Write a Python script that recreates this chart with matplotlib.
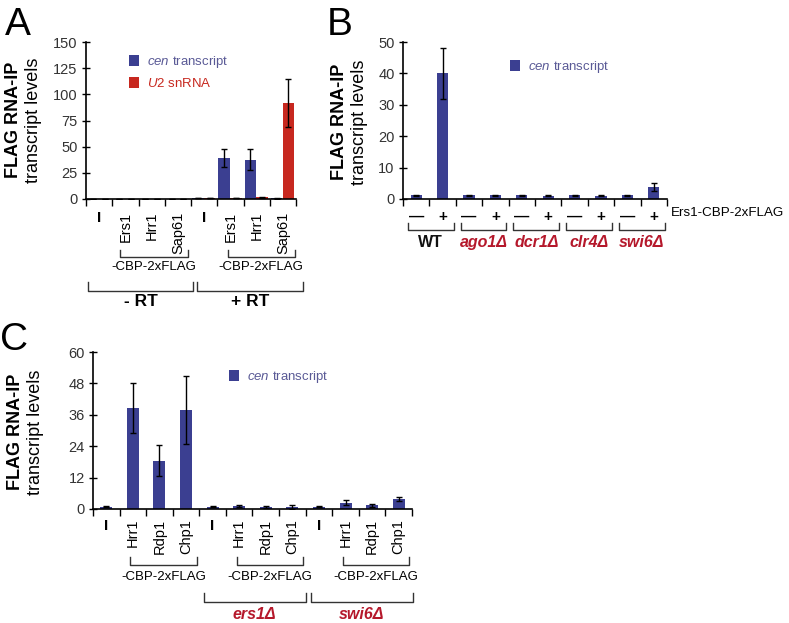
import numpy as np
import matplotlib
matplotlib.use("Agg")
import matplotlib.pyplot as plt

plt.rcParams['font.family'] = ['Liberation Sans', 'DejaVu Sans']
plt.rcParams['mathtext.fontset'] = 'custom'
plt.rcParams['mathtext.rm'] = 'Liberation Sans'
plt.rcParams['mathtext.it'] = 'Liberation Sans:italic'
plt.rcParams['mathtext.bf'] = 'Liberation Sans:bold'

BLUE = '#3b3f91'
RED = '#c7281f'
LBLUE = '#5a5a96'
MRED = '#b5182b'

# ---------------- data ----------------
# panel A: 8 samples, two transcripts
a_labels = ['I', 'Ers1', 'Hrr1', 'Sap61', 'I', 'Ers1', 'Hrr1', 'Sap61']
a_cen = [0.2, 0.2, 0.2, 0.2, 1.0, 39.0, 37.5, 0.5]
a_cen_err = [0, 0, 0, 0, 0.3, 8.5, 10.0, 0.2]
a_u2 = [0.3, 0.3, 0.3, 0.3, 1.0, 0.8, 1.5, 91.5]
a_u2_err = [0, 0, 0, 0, 0.3, 0.3, 0.5, 23.0]

# panel B: -/+ Ers1-CBP-2xFLAG in each strain
b_labels = ['—', '+'] * 5
b_strains = ['WT', 'ago1Δ', 'dcr1Δ', 'clr4Δ', 'swi6Δ']
b_cen = [1.2, 40.0, 1.2, 1.2, 1.2, 1.1, 1.2, 1.1, 1.2, 3.8]
b_cen_err = [0.15, 8.0, 0.15, 0.15, 0.15, 0.15, 0.15, 0.2, 0.15, 1.2]

# panel C: 3 strains x (untagged + 3 tagged)
c_labels = ['I', 'Hrr1', 'Rdp1', 'Chp1'] * 3
c_strains = ['ers1Δ', 'swi6Δ']
c_cen = [0.9, 38.5, 18.5, 38.0, 0.9, 1.15, 0.75, 0.8, 0.9, 2.4, 1.4, 3.8]
c_cen_err = [0.2, 9.5, 6.0, 13.0, 0.15, 0.5, 0.3, 0.8, 0.15, 1.0, 0.6, 0.8]

fig = plt.figure(figsize=(7.89, 6.23), dpi=100)


def box(px, py, pw, ph):
    return [px / 789, 1 - (py + ph) / 623, pw / 789, ph / 623]


def style_axes(ax, n, yticks):
    ax.spines['top'].set_visible(False)
    ax.spines['right'].set_visible(False)
    for s in ('left', 'bottom'):
        ax.spines[s].set_linewidth(1.2)
    ax.set_xlim(-0.5, n - 0.5)
    ax.set_ylim(yticks[0], yticks[-1])
    ax.set_yticks(yticks)
    ax.tick_params(axis='y', direction='inout', length=6, width=1, labelsize=10.5,
                   pad=3, labelcolor='#333')
    ax.set_xticks(np.arange(-0.5, n), minor=True)
    ax.tick_params(axis='x', which='minor', direction='out', length=5, width=1)
    ax.tick_params(axis='x', which='major', length=0)


def bracket(ax, x0, x1, y, h, label, ty, **kw):
    tr = ax.get_xaxis_transform()
    ax.plot([x0, x0, x1, x1], [y + h, y, y, y + h], transform=tr, color='#333',
            lw=1, clip_on=False)
    ax.text((x0 + x1) / 2, ty, label, transform=tr, ha='center', va='center', **kw)


def ylab(px, py):
    # px is the centre of the first (bold) line
    fig.text(px / 789, 1 - py / 623, 'FLAG RNA-IP', rotation=90, ha='center',
             va='center', fontsize=13, fontweight='bold')
    fig.text((px + 19) / 789, 1 - py / 623, 'transcript levels', rotation=90,
             ha='center', va='center', fontsize=13)


def fix_dash_labels(ax):
    for t in ax.get_xticklabels():
        if t.get_text() == 'I':
            t.set_rotation(0)
            t.set_fontweight('bold')
            t.set_fontsize(11)


# ---------------- panel A ----------------
ax = fig.add_axes(box(86, 42, 210, 157))
xa = np.arange(len(a_labels))
b1 = ax.bar(xa - 0.24, a_cen, 0.44, color=BLUE, yerr=a_cen_err, capsize=2.5,
            error_kw=dict(lw=1, capthick=1))
b2 = ax.bar(xa + 0.21, a_u2, 0.44, color=RED, yerr=a_u2_err, capsize=2.5,
            error_kw=dict(lw=1, capthick=1))
style_axes(ax, len(a_labels), [0, 25, 50, 75, 100, 125, 150])
ax.set_xticks(xa, a_labels, rotation=90, fontsize=10.5)
ax.tick_params(axis='x', which='major', pad=9)
fix_dash_labels(ax)
leg = ax.legend([b1, b2], [r'$\it{cen}$ transcript', r'$\it{U2}$ snRNA'],
                loc='upper left', bbox_to_anchor=(122 / 789, 1 - 47 / 623),
                bbox_transform=fig.transFigure, frameon=False, fontsize=9.5,
                handlelength=0.8, handleheight=0.9, handletextpad=0.6,
                labelspacing=0.55, borderpad=0)
leg.get_texts()[0].set_color(LBLUE)
leg.get_texts()[1].set_color(RED)
bracket(ax, 0.8, 3.4, -0.369, 0.045, '-CBP-2xFLAG', -0.433, fontsize=9.5)
bracket(ax, 4.9, 7.45, -0.369, 0.045, '-CBP-2xFLAG', -0.433, fontsize=9.5)
bracket(ax, -0.42, 3.58, -0.586, 0.057, '- RT', -0.656, fontsize=12.5,
        fontweight='bold')
bracket(ax, 3.73, 7.77, -0.586, 0.057, '+ RT', -0.656, fontsize=12.5,
        fontweight='bold')
ylab(14, 120)
fig.text(5 / 789, 1 - 35 / 623, 'A', fontsize=28, va='baseline')

# ---------------- panel B ----------------
ax = fig.add_axes(box(403, 42, 264, 157))
xb = np.arange(len(b_labels))
bb = ax.bar(xb, b_cen, 0.42, color=BLUE, yerr=b_cen_err, capsize=2,
            error_kw=dict(lw=1, capthick=1))
style_axes(ax, len(b_labels), [0, 10, 20, 30, 40, 50])
ax.set_xticks(xb, b_labels, fontsize=11, fontweight='bold')
ax.tick_params(axis='x', which='major', pad=8)
ax.text(1.015, -0.089, 'Ers1-CBP-2xFLAG', transform=ax.transAxes, ha='left',
        va='center', fontsize=9.6)
leg = ax.legend([bb], [r'$\it{cen}$ transcript'], loc='upper left',
                bbox_to_anchor=(503 / 789, 1 - 52 / 623),
                bbox_transform=fig.transFigure, frameon=False, fontsize=9.5,
                handlelength=0.8, handleheight=0.9, handletextpad=0.6,
                borderpad=0)
leg.get_texts()[0].set_color(LBLUE)
for i, s in enumerate(b_strains):
    if i == 0:
        kw = dict(color='#111', fontweight='bold')
    else:
        kw = dict(color=MRED, fontweight='bold', fontstyle='italic')
    bracket(ax, 2 * i - 0.32, 2 * i + 1.42, -0.197, 0.044, s, -0.274,
            fontsize=11.5, **kw)
ylab(340, 122)
fig.text(327 / 789, 1 - 35 / 623, 'B', fontsize=28, va='baseline')

# ---------------- panel C ----------------
ax = fig.add_axes(box(93, 352, 319, 157))
xc = np.arange(len(c_labels))
bc = ax.bar(xc, c_cen, 0.45, color=BLUE, yerr=c_cen_err, capsize=2.5,
            error_kw=dict(lw=1, capthick=1))
style_axes(ax, len(c_labels), [0, 12, 24, 36, 48, 60])
ax.set_xticks(xc, c_labels, rotation=90, fontsize=10.5)
ax.tick_params(axis='x', which='major', pad=7)
fix_dash_labels(ax)
leg = ax.legend([bc], [r'$\it{cen}$ transcript'], loc='upper left',
                bbox_to_anchor=(222 / 789, 1 - 362 / 623),
                bbox_transform=fig.transFigure, frameon=False, fontsize=9.5,
                handlelength=0.8, handleheight=0.9, handletextpad=0.6,
                borderpad=0)
leg.get_texts()[0].set_color(LBLUE)
for k in range(3):
    bracket(ax, 4 * k + 0.9, 4 * k + 3.4, -0.357, 0.051, '-CBP-2xFLAG', -0.433,
            fontsize=9.5)
bracket(ax, 3.67, 7.5, -0.592, 0.057, c_strains[0], -0.675, fontsize=11.5,
        color=MRED, fontweight='bold', fontstyle='italic')
bracket(ax, 7.7, 11.53, -0.592, 0.057, c_strains[1], -0.675, fontsize=11.5,
        color=MRED, fontweight='bold', fontstyle='italic')
ylab(16, 432)
fig.text(0 / 789, 1 - 350 / 623, 'C', fontsize=28, va='baseline')

fig.savefig('out.png', dpi=100)
